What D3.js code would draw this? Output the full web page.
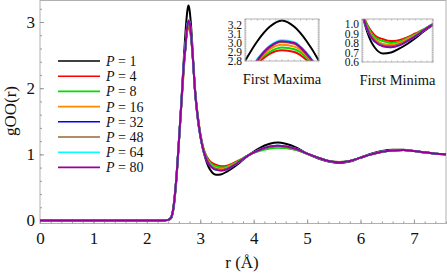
<!DOCTYPE html>
<html>
<head>
<meta charset="utf-8">
<script src="https://cdn.jsdelivr.net/npm/d3@7"></script>
<style>
  body { margin: 0; background: #fff; }
  text { font-family: "Liberation Serif", "DejaVu Serif", serif; fill: #111; }
</style>
</head>
<body>
<div id="chart"></div>
<script>
// r grid (Angstrom) shared by every series
var rValues = [0, 2.3, 2.4, 2.45, 2.5, 2.55, 2.6, 2.65, 2.7, 2.72, 2.74, 2.76, 2.78, 2.8, 2.82, 2.84, 2.86, 2.9, 2.95, 3.0,
  3.05, 3.1, 3.15, 3.2, 3.3, 3.4, 3.5, 3.6, 3.7, 3.8, 3.9, 4.1, 4.3, 4.45, 4.6, 4.8, 5.0, 5.2, 5.4, 5.6,
  5.8, 6.0, 6.2, 6.4, 6.6, 6.8, 7.0, 7.2, 7.4, 7.6];

var gP1 = [0, 0, 0.01, 0.03, 0.18, 0.58, 1.18, 1.85, 2.55, 2.8, 3.02, 3.18, 3.25, 3.18, 3.02, 2.8, 2.52, 1.98, 1.55, 1.28,
  1.08, 0.93, 0.82, 0.75, 0.69, 0.7, 0.74, 0.79, 0.85, 0.92, 0.98, 1.09, 1.16, 1.18, 1.16, 1.1, 1.01, 0.94, 0.89, 0.87,
  0.89, 0.95, 1.01, 1.05, 1.07, 1.07, 1.05, 1.03, 1.01, 1.0];
var gP4 = [0, 0, 0.01, 0.04, 0.21, 0.61, 1.19, 1.8, 2.38, 2.61, 2.77, 2.88, 2.92, 2.9, 2.81, 2.66, 2.46, 2.0, 1.6, 1.32,
  1.12, 1.0, 0.93, 0.88, 0.84, 0.82, 0.83, 0.86, 0.9, 0.94, 0.99, 1.06, 1.1, 1.11, 1.1, 1.07, 1.01, 0.95, 0.9, 0.885,
  0.9, 0.95, 1.0, 1.04, 1.06, 1.065, 1.05, 1.03, 1.01, 1.0];
var gP8 = [0, 0, 0.01, 0.04, 0.21, 0.61, 1.19, 1.81, 2.4, 2.6, 2.79, 2.9, 2.95, 2.93, 2.84, 2.69, 2.48, 2.0, 1.6, 1.31,
  1.11, 0.99, 0.91, 0.86, 0.82, 0.8, 0.815, 0.85, 0.89, 0.94, 0.99, 1.05, 1.09, 1.1, 1.095, 1.065, 1.01, 0.95, 0.9, 0.885,
  0.9, 0.95, 1.0, 1.04, 1.06, 1.065, 1.05, 1.03, 1.01, 1.0];
var gP16 = [0, 0, 0.01, 0.04, 0.21, 0.61, 1.2, 1.82, 2.42, 2.59, 2.8, 2.93, 2.98, 2.96, 2.86, 2.68, 2.47, 1.99, 1.59, 1.3,
  1.1, 0.97, 0.89, 0.84, 0.79, 0.78, 0.8, 0.84, 0.88, 0.93, 0.985, 1.06, 1.11, 1.12, 1.11, 1.075, 1.01, 0.95, 0.9, 0.88,
  0.9, 0.95, 1.0, 1.04, 1.06, 1.065, 1.05, 1.03, 1.01, 1.0];
var gP32 = [0, 0, 0.01, 0.04, 0.21, 0.62, 1.2, 1.82, 2.45, 2.59, 2.81, 2.96, 3.02, 3.0, 2.88, 2.69, 2.47, 1.98, 1.58, 1.29,
  1.09, 0.96, 0.87, 0.82, 0.77, 0.76, 0.78, 0.82, 0.87, 0.93, 0.985, 1.065, 1.115, 1.13, 1.12, 1.08, 1.01, 0.95, 0.9, 0.88,
  0.9, 0.95, 1.0, 1.04, 1.06, 1.065, 1.05, 1.03, 1.01, 1.0];
var gP48 = [0, 0, 0.01, 0.04, 0.21, 0.62, 1.2, 1.82, 2.44, 2.59, 2.8, 2.95, 3.01, 2.99, 2.87, 2.69, 2.47, 1.98, 1.58, 1.29,
  1.09, 0.96, 0.875, 0.825, 0.775, 0.765, 0.785, 0.825, 0.87, 0.93, 0.985, 1.065, 1.115, 1.125, 1.115, 1.08, 1.01, 0.95, 0.9, 0.88,
  0.9, 0.95, 1.0, 1.04, 1.06, 1.065, 1.05, 1.03, 1.01, 1.0];
var gP64 = [0, 0, 0.01, 0.04, 0.21, 0.62, 1.2, 1.83, 2.46, 2.6, 2.82, 2.97, 3.03, 3.01, 2.89, 2.7, 2.48, 1.98, 1.58, 1.29,
  1.09, 0.955, 0.865, 0.815, 0.765, 0.755, 0.775, 0.82, 0.87, 0.93, 0.985, 1.065, 1.12, 1.13, 1.12, 1.08, 1.01, 0.95, 0.9, 0.88,
  0.9, 0.95, 1.0, 1.04, 1.06, 1.065, 1.05, 1.03, 1.01, 1.0];
var gP80 = [0, 0, 0.01, 0.04, 0.21, 0.62, 1.2, 1.82, 2.45, 2.59, 2.81, 2.96, 3.02, 3.0, 2.88, 2.7, 2.48, 1.98, 1.58, 1.29,
  1.09, 0.955, 0.865, 0.815, 0.765, 0.755, 0.775, 0.82, 0.87, 0.93, 0.985, 1.065, 1.12, 1.13, 1.12, 1.08, 1.01, 0.95, 0.9, 0.88,
  0.9, 0.95, 1.0, 1.04, 1.06, 1.065, 1.05, 1.03, 1.01, 1.0];

var beadCounts = ["1", "4", "8", "16", "32", "48", "64", "80"];
var gSeries = [gP1, gP4, gP8, gP16, gP32, gP48, gP64, gP80];
var lineColors = ["#000000", "#ff0000", "#00dd00", "#ff8800", "#0000ff", "#996633", "#00ffff", "#990099"];

var xTicks = [0, 1, 2, 3, 4, 5, 6, 7];
var yTicks = [0, 1, 2, 3];
var maxInsetTicks = [2.8, 2.9, 3.0, 3.1, 3.2];
var minInsetTicks = [0.6, 0.7, 0.8, 0.9, 1.0];

var svg = d3.select("#chart").append("svg").attr("width", 447).attr("height", 273);

var x = d3.scaleLinear().domain([0, 7.6]).range([40, 446]);
var y = d3.scaleLinear().domain([-0.045, 3.325]).range([223.5, 0.5]);

// frame
svg.append("rect").attr("x", 40).attr("y", 0.5).attr("width", 406).attr("height", 223)
  .attr("fill", "none").attr("stroke", "#b0b0b0");

// minor ticks
svg.append("g").attr("transform", "translate(0,223.5)")
  .call(d3.axisBottom(x).tickValues(d3.range(0, 7.61, 0.2)).tickSize(-2).tickFormat(""))
  .call(function (g) { g.select(".domain").remove(); g.selectAll("line").attr("stroke", "#999"); });
svg.append("g").attr("transform", "translate(40,0)")
  .call(d3.axisLeft(y).tickValues(d3.range(0, 3.3, 0.2)).tickSize(-2).tickFormat(""))
  .call(function (g) { g.select(".domain").remove(); g.selectAll("line").attr("stroke", "#999"); });

// major ticks + labels
svg.append("g").attr("transform", "translate(0,223.5)")
  .call(d3.axisBottom(x).tickValues(xTicks).tickSizeInner(-4).tickSizeOuter(0).tickPadding(8).tickFormat(d3.format("d")))
  .call(function (g) {
    g.select(".domain").remove();
    g.selectAll("line").attr("stroke", "#999");
    g.selectAll("text").style("font-size", "17px").attr("fill", "#111");
  });
svg.append("g").attr("transform", "translate(40,0)")
  .call(d3.axisLeft(y).tickValues(yTicks).tickSizeInner(-4).tickSizeOuter(0).tickPadding(5).tickFormat(d3.format("d")))
  .call(function (g) {
    g.select(".domain").remove();
    g.selectAll("line").attr("stroke", "#999");
    g.selectAll("text").style("font-size", "17px").attr("fill", "#111");
  });

svg.append("text").attr("x", 242).attr("y", 268).attr("text-anchor", "middle")
  .style("font-size", "17px").text("r (Å)");
svg.append("text").attr("transform", "translate(16,111) rotate(-90)").attr("text-anchor", "middle")
  .style("font-size", "17px").text("gOO(r)");

// curves
svg.append("defs").append("clipPath").attr("id", "mainClip")
  .append("rect").attr("x", 40).attr("y", 0.5).attr("width", 406).attr("height", 223);

var mainLine = d3.line()
  .x(function (d, i) { return x(rValues[i]); })
  .y(function (d) { return y(d); })
  .curve(d3.curveMonotoneX);

svg.append("g").attr("clip-path", "url(#mainClip)")
  .selectAll("path").data(gSeries).enter().append("path")
  .attr("fill", "none")
  .attr("stroke", function (d, i) { return lineColors[i]; })
  .attr("stroke-width", 2)
  .attr("d", mainLine);

// legend
var legend = svg.append("g");
beadCounts.forEach(function (p, i) {
  var ly = 61 + i * 15.2;
  legend.append("line").attr("x1", 58).attr("x2", 100).attr("y1", ly).attr("y2", ly)
    .attr("stroke", lineColors[i]).attr("stroke-width", 1.6);
  var t = legend.append("text").attr("x", 106).attr("y", ly).attr("dy", "0.35em").style("font-size", "14px");
  t.append("tspan").style("font-style", "italic").text("P");
  t.append("tspan").text(" = " + p);
});

// insets
function drawInset(id, box, xDomain, yDomain, ticks, title) {
  var ix = d3.scaleLinear().domain(xDomain).range([box.x, box.x + box.w]);
  var iy = d3.scaleLinear().domain(yDomain).range([box.y + box.h, box.y]);
  var g = svg.append("g");

  g.append("defs").append("clipPath").attr("id", id)
    .append("rect").attr("x", box.x).attr("y", box.y).attr("width", box.w).attr("height", box.h);

  var insetLine = d3.line()
    .x(function (d, i) { return ix(rValues[i]); })
    .y(function (d) { return iy(d); })
    .curve(d3.curveMonotoneX);

  g.append("g").attr("clip-path", "url(#" + id + ")")
    .selectAll("path").data(gSeries).enter().append("path")
    .attr("fill", "none")
    .attr("stroke", function (d, i) { return lineColors[i]; })
    .attr("stroke-width", 2)
    .attr("d", insetLine);

  g.append("rect").attr("x", box.x).attr("y", box.y).attr("width", box.w).attr("height", box.h)
    .attr("fill", "none").attr("stroke", "#a0a0a0").attr("stroke-width", 0.8);

  // small ticks on all four sides
  var xt = d3.range(0, 13).map(function (k) { return xDomain[0] + k * (xDomain[1] - xDomain[0]) / 12; });
  var yt = d3.range(yDomain[0], yDomain[1], 0.02);
  xt.forEach(function (v) {
    g.append("line").attr("x1", ix(v)).attr("x2", ix(v)).attr("y1", box.y + box.h).attr("y2", box.y + box.h - 1.5).attr("stroke", "#999").attr("stroke-width", 0.6);
    g.append("line").attr("x1", ix(v)).attr("x2", ix(v)).attr("y1", box.y).attr("y2", box.y + 1.5).attr("stroke", "#999").attr("stroke-width", 0.6);
  });
  yt.forEach(function (v) {
    g.append("line").attr("x1", box.x).attr("x2", box.x + 1.5).attr("y1", iy(v)).attr("y2", iy(v)).attr("stroke", "#999").attr("stroke-width", 0.6);
    g.append("line").attr("x1", box.x + box.w).attr("x2", box.x + box.w - 1.5).attr("y1", iy(v)).attr("y2", iy(v)).attr("stroke", "#999").attr("stroke-width", 0.6);
  });

  g.append("g").attr("transform", "translate(" + box.x + ",0)")
    .call(d3.axisLeft(iy).tickValues(ticks).tickSize(0).tickPadding(3).tickFormat(d3.format(".1f")))
    .call(function (a) {
      a.select(".domain").remove();
      a.selectAll("text").style("font-size", "11.5px").attr("fill", "#111");
    });

  g.append("text").attr("x", box.x + box.w / 2).attr("y", box.y + box.h + 23)
    .attr("text-anchor", "middle").style("font-size", "14.5px").text(title);
}

drawInset("maxClip", { x: 245, y: 19, w: 74, h: 42 }, [2.72, 2.84], [2.8, 3.267], maxInsetTicks, "First Maxima");
drawInset("minClip", { x: 362, y: 19, w: 71, h: 43 }, [3.04, 3.92], [0.6, 1.053], minInsetTicks, "First Minima");
</script>
</body>
</html>
